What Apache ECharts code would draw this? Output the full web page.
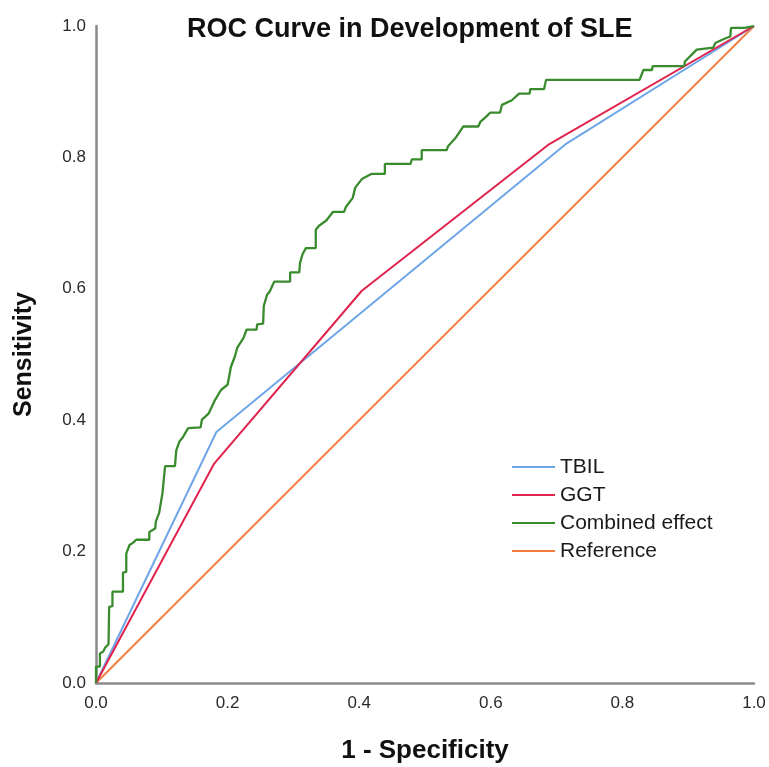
<!DOCTYPE html>
<html>
<head>
<meta charset="utf-8">
<script src="https://cdn.jsdelivr.net/npm/echarts@6/dist/echarts.min.js"></script>
<style>
html,body{margin:0;padding:0;background:#fff;}
#chart{width:769px;height:767px;}
</style>
</head>
<body>
<div id="chart"></div>
<script>
const seriesNames = ['TBIL', 'GGT', 'Combined effect', 'Reference'];
const tickLabels = ['0.0', '0.2', '0.4', '0.6', '0.8', '1.0'];

const tbilFpr = [0, 0.183, 0.715, 1];
const tbilTpr = [0, 0.382, 0.821, 1];

const ggtFpr = [0, 0.179, 0.404, 0.687, 1];
const ggtTpr = [0, 0.333, 0.597, 0.819, 1];

const combFpr = [0,0,0.006,0.006,0.011,0.014,0.019,0.020,0.025,0.025,0.041,0.041,0.046,0.046,0.051,0.057,0.061,0.081,0.081,0.090,0.091,0.096,0.101,0.105,0.120,0.122,0.127,0.132,0.140,0.159,0.161,0.171,0.181,0.190,0.200,0.205,0.211,0.215,0.224,0.229,0.244,0.245,0.254,0.255,0.260,0.264,0.271,0.295,0.295,0.309,0.310,0.314,0.319,0.334,0.334,0.339,0.350,0.360,0.377,0.380,0.390,0.394,0.404,0.419,0.439,0.439,0.478,0.480,0.495,0.495,0.533,0.535,0.546,0.558,0.581,0.584,0.593,0.599,0.614,0.617,0.632,0.643,0.659,0.660,0.681,0.684,0.826,0.832,0.845,0.846,0.894,0.895,0.908,0.913,0.938,0.941,0.956,0.964,0.965,0.986,1];
const combTpr = [0,0.025,0.025,0.045,0.048,0.054,0.059,0.116,0.117,0.139,0.139,0.168,0.169,0.197,0.210,0.214,0.218,0.218,0.230,0.235,0.246,0.259,0.289,0.330,0.330,0.354,0.368,0.374,0.388,0.389,0.401,0.410,0.431,0.446,0.454,0.481,0.497,0.511,0.525,0.538,0.538,0.546,0.547,0.574,0.591,0.596,0.611,0.611,0.625,0.625,0.639,0.653,0.662,0.662,0.690,0.696,0.704,0.717,0.717,0.725,0.738,0.754,0.767,0.775,0.775,0.790,0.790,0.797,0.797,0.811,0.811,0.817,0.829,0.847,0.847,0.854,0.862,0.868,0.868,0.880,0.887,0.897,0.897,0.904,0.904,0.918,0.918,0.933,0.933,0.939,0.939,0.946,0.959,0.964,0.967,0.974,0.981,0.984,0.997,0.997,1];

const refFpr = [0, 1];
const refTpr = [0, 1];

const colors = ['#6EA6E8', '#E0234E', '#3A8B2E', '#F47C3C'];

function pairs(xs, ys) { return xs.map((x, i) => [x, ys[i]]); }

const chart = echarts.init(document.getElementById('chart'));
const FONT = '"Liberation Sans", Arial, sans-serif';

function lineSeries(name, xs, ys, color, width, z) {
  return {
    name: name, type: 'line', data: pairs(xs, ys),
    showSymbol: false, symbol: 'none', smooth: false, z: z,
    lineStyle: { color: color, width: width },
    itemStyle: { color: color },
    emphasis: { disabled: true }
  };
}

chart.setOption({
  animation: false,
  backgroundColor: '#ffffff',
  textStyle: { fontFamily: FONT },
  title: {
    text: 'ROC Curve in Development of SLE',
    left: 182, top: 11,
    textStyle: { fontFamily: FONT, fontSize: 27, fontWeight: 'bold', color: '#111' }
  },
  legend: {
    orient: 'vertical', left: 507, top: 448,
    itemWidth: 43, itemHeight: 2, itemGap: 0,
    icon: 'rect',
    data: seriesNames,
    textStyle: { fontFamily: FONT, fontSize: 21, color: '#1a1a1a', lineHeight: 28 }
  },
  grid: { left: 96, right: 15, top: 26, bottom: 84, outerBoundsMode: 'none', containLabel: false },
  xAxis: {
    type: 'value', min: 0, max: 1, interval: 0.2,
    name: '1 - Specificity', nameLocation: 'middle', nameGap: 55,
    nameTextStyle: { fontFamily: FONT, fontSize: 26, fontWeight: 'bold', color: '#111' },
    axisLine: { show: true, lineStyle: { color: '#8a8a8a', width: 2.5 } },
    axisTick: { show: false },
    splitLine: { show: false },
    axisLabel: { fontFamily: FONT, fontSize: 17, color: '#2a2a2a', margin: 12,
      formatter: v => tickLabels[Math.round(v / 0.2)] }
  },
  yAxis: {
    type: 'value', min: 0, max: 1, interval: 0.2,
    name: 'Sensitivity', nameLocation: 'middle', nameGap: 59,
    nameTextStyle: { fontFamily: FONT, fontSize: 25, fontWeight: 'bold', color: '#111' },
    axisLine: { show: true, lineStyle: { color: '#8a8a8a', width: 2.5 } },
    axisTick: { show: false },
    splitLine: { show: false },
    axisLabel: { fontFamily: FONT, fontSize: 17, color: '#2a2a2a', margin: 10,
      formatter: v => tickLabels[Math.round(v / 0.2)] }
  },
  series: [
    lineSeries(seriesNames[0], tbilFpr, tbilTpr, colors[0], 2, 3),
    lineSeries(seriesNames[1], ggtFpr, ggtTpr, colors[1], 2, 4),
    lineSeries(seriesNames[2], combFpr, combTpr, colors[2], 2.3, 5),
    lineSeries(seriesNames[3], refFpr, refTpr, colors[3], 1.8, 2)
  ]
});
</script>
</body>
</html>
